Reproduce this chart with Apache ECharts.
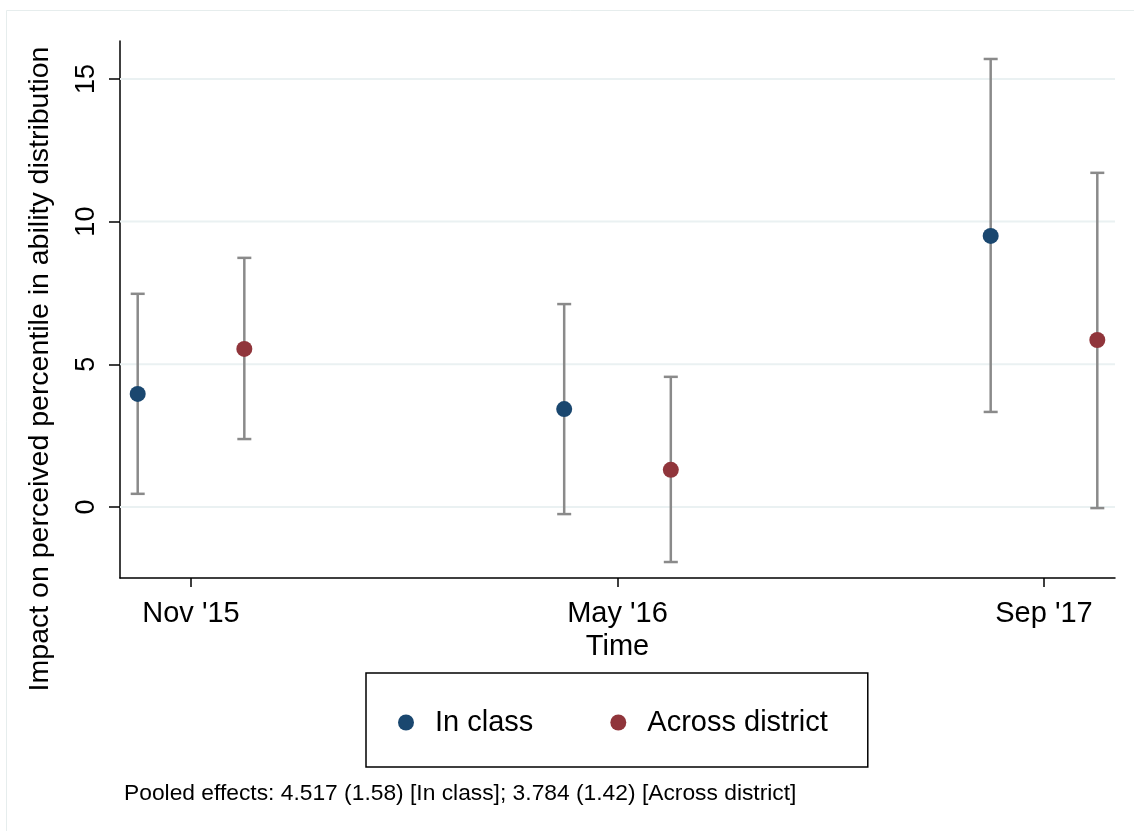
<!DOCTYPE html>
<html>
<head>
<meta charset="utf-8">
<script src="https://cdn.jsdelivr.net/npm/echarts@6/dist/echarts.min.js"></script>
<style>
  html, body { margin: 0; padding: 0; background: #ffffff; }
  #chart { width: 1134px; height: 831px; }
</style>
</head>
<body>
<div id="chart"></div>
<script>
// Survey waves on the x axis
const waves = ["Nov '15", "May '16", "Sep '17"];

// Point estimates and 95% confidence bounds, one entry per wave
const inClassEst = [3.96, 3.43, 9.50];
const inClassLo  = [0.46, -0.25, 3.33];
const inClassHi  = [7.47, 7.11, 15.70];

const acrossEst = [5.54, 1.30, 5.85];
const acrossLo  = [2.38, -1.93, -0.04];
const acrossHi  = [8.73, 4.56, 11.71];

// Y axis tick values
const yTicks = [0, 5, 10, 15];

const seriesNames = ['In class', 'Across district'];
const note = 'Pooled effects: 4.517 (1.58) [In class]; 3.784 (1.42) [Across district]';

const FONT = '"Liberation Sans", Arial, Helvetica, sans-serif';
const BLUE = '#1a476f';
const RED = '#90353b';
const BAR_GREY = '#8a8a8a';

// horizontal dodge of the two estimates around each wave
const DODGE = 0.125;
const X_MIN = -0.1665, X_MAX = 2.1665;

const xIn = waves.map((_, i) => i - DODGE);
const xAc = waves.map((_, i) => i + DODGE);

const barsIn = waves.map((_, i) => [xIn[i], inClassLo[i], inClassHi[i]]);
const barsAc = waves.map((_, i) => [xAc[i], acrossLo[i], acrossHi[i]]);
const ptsIn = waves.map((_, i) => [xIn[i], inClassEst[i]]);
const ptsAc = waves.map((_, i) => [xAc[i], acrossEst[i]]);

function renderBar(params, api) {
  const x = api.value(0);
  const lo = api.coord([x, api.value(1)]);
  const hi = api.coord([x, api.value(2)]);
  const cap = 7;
  const style = { stroke: BAR_GREY, lineWidth: 2.5 };
  return {
    type: 'group',
    children: [
      { type: 'line', shape: { x1: lo[0], y1: lo[1], x2: hi[0], y2: hi[1] }, style },
      { type: 'line', shape: { x1: lo[0] - cap, y1: lo[1], x2: lo[0] + cap, y2: lo[1] }, style },
      { type: 'line', shape: { x1: hi[0] - cap, y1: hi[1], x2: hi[0] + cap, y2: hi[1] }, style }
    ]
  };
}

function renderGridLine(params, api) {
  const v = api.value(0);
  const a = api.coord([X_MIN, v]);
  const b = api.coord([X_MAX, v]);
  return {
    type: 'line',
    shape: { x1: a[0], y1: a[1], x2: b[0], y2: b[1] },
    style: { stroke: '#eaf1f2', lineWidth: 2 }
  };
}

const chart = echarts.init(document.getElementById('chart'));

chart.setOption({
  backgroundColor: '#ffffff',
  animation: false,
  grid: { left: 120, right: 19, top: 41, bottom: 253 },
  xAxis: {
    type: 'value',
    min: X_MIN,
    max: X_MAX,
    name: 'Time',
    nameLocation: 'middle',
    nameGap: 49,
    nameTextStyle: { fontFamily: FONT, fontSize: 29, color: '#000' },
    axisLine: { show: true, onZero: false, lineStyle: { color: '#000', width: 1.5 } },
    axisTick: { show: true, customValues: [0, 1, 2], length: 9, lineStyle: { color: '#000', width: 1.5 } },
    axisLabel: {
      customValues: [0, 1, 2],
      formatter: v => waves[Math.round(v)],
      fontFamily: FONT, fontSize: 29, color: '#000', margin: 21
    },
    splitLine: { show: false }
  },
  yAxis: {
    type: 'value',
    min: -2.49,
    max: 16.33,
    axisLine: { show: true, onZero: false, lineStyle: { color: '#000', width: 1.5 } },
    axisTick: { show: true, customValues: yTicks, length: 11, lineStyle: { color: '#000', width: 1.5 } },
    axisLabel: {
      customValues: yTicks,
      rotate: 90,
      fontFamily: FONT, fontSize: 27, color: '#000', margin: 20
    },
    splitLine: { show: false }
  },
  legend: {
    data: seriesNames,
    left: 366,
    top: 673,
    orient: 'horizontal',
    padding: [35, 40, 30, 32],
    itemGap: 77,
    itemWidth: 16,
    itemHeight: 16,
    icon: 'circle',
    borderColor: '#000',
    borderWidth: 1.5,
    borderRadius: 0,
    selectedMode: false,
    textStyle: { fontFamily: FONT, fontSize: 29, color: '#000', lineHeight: 28, padding: [0, 0, 0, 16] }
  },
  graphic: [
    {
      type: 'rect',
      shape: { x: 6.5, y: 10.5, width: 1300, height: 1000 },
      style: { fill: 'none', stroke: '#e6eded', lineWidth: 1 },
      silent: true, z: -10
    },
    {
      type: 'text',
      x: 40, y: 369,
      rotation: Math.PI / 2,
      style: {
        text: 'Impact on perceived percentile in ability distribution',
        fontFamily: FONT, fontSize: 28.5, fill: '#000',
        align: 'center', verticalAlign: 'middle'
      }
    },
    {
      type: 'text',
      x: 124, y: 794,
      style: {
        text: note,
        fontFamily: FONT, fontSize: 22.8, fill: '#000',
        align: 'left', verticalAlign: 'middle'
      }
    }
  ],
  series: [
    {
      type: 'custom',
      name: 'gridlines',
      renderItem: renderGridLine,
      data: yTicks.map(v => [v]),
      encode: { y: 0 },
      silent: true,
      z: 1
    },
    {
      type: 'custom',
      name: 'ci-in',
      renderItem: renderBar,
      data: barsIn,
      encode: { x: 0, y: [1, 2] },
      silent: true,
      z: 2
    },
    {
      type: 'custom',
      name: 'ci-across',
      renderItem: renderBar,
      data: barsAc,
      encode: { x: 0, y: [1, 2] },
      silent: true,
      z: 2
    },
    {
      type: 'scatter',
      name: seriesNames[0],
      data: ptsIn,
      symbol: 'circle',
      symbolSize: 16,
      itemStyle: { color: BLUE, opacity: 1 },
      z: 3
    },
    {
      type: 'scatter',
      name: seriesNames[1],
      data: ptsAc,
      symbol: 'circle',
      symbolSize: 16,
      itemStyle: { color: RED, opacity: 1 },
      z: 3
    }
  ]
});
</script>
</body>
</html>
